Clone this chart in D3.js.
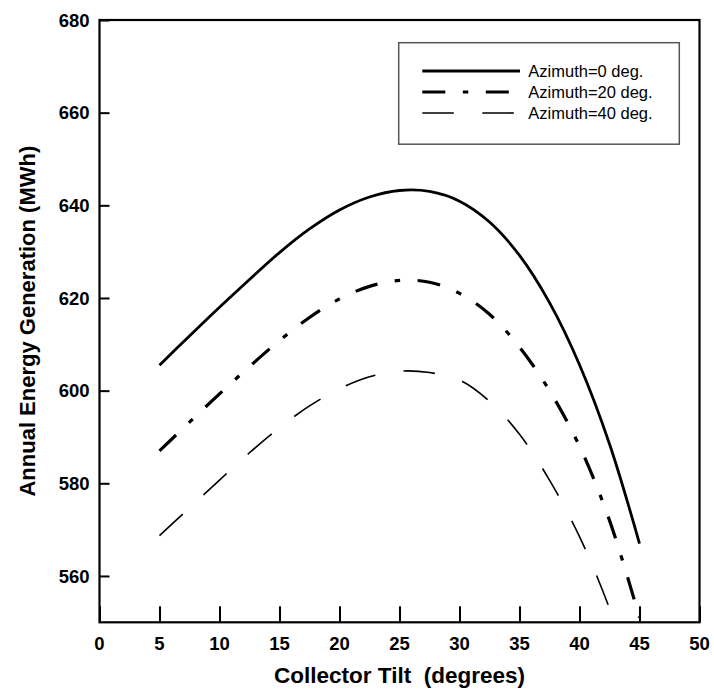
<!DOCTYPE html>
<html>
<head>
<meta charset="utf-8">
<script src="https://cdn.jsdelivr.net/npm/d3@7"></script>
<style>
    body { margin: 0; background: #fff; }
    text { font-family: Arial, 'Liberation Sans', Helvetica, sans-serif; }
</style>
</head>
<body>
<div id="chart"></div>
<script>
// data
var tilt = [5, 7.5, 10, 12.5, 15, 17.5, 20, 22.5, 25, 27.5, 30, 32.5, 35, 37.5, 40, 42.5, 45];
var az0  = [605.5, 611.8, 618.0, 624.0, 629.8, 634.9, 639.0, 641.8, 643.2, 643.0, 640.9, 636.4, 629.2, 619.0, 605.6, 588.5, 567.0];
var az20 = [587.0, 593.2, 599.3, 605.2, 610.8, 615.8, 619.8, 622.5, 623.8, 623.4, 621.0, 616.5, 609.4, 600.0, 588.0, 572.0, 551.0];
var az40 = [568.7, 574.7, 580.7, 586.6, 592.0, 596.7, 600.4, 603.0, 604.2, 603.9, 602.3, 597.7, 590.6, 580.7, 568.5, 553.0, 534.0];
var seriesNames = ['Azimuth=0 deg.', 'Azimuth=20 deg.', 'Azimuth=40 deg.'];
var xTicks = [0, 5, 10, 15, 20, 25, 30, 35, 40, 45, 50];
var yTicks = [560, 580, 600, 620, 640, 660, 680];

var width = 714,
    height = 689;
// note: "top" is taken by window.top, so prefixed names
var plotLeft = 99.5, plotRight = 699.5, plotTop = 20, plotBottom = 622.3;

var styles = [
    { width: 2.8, dash: null },
    { width: 3.2, dash: '23,17.5,5.5,17.5' },
    { width: 1.6, dash: '31.5,28.5' }
];

var svg = d3.select('#chart')
    .append('svg')
        .attr('width', width)
        .attr('height', height);

var x = d3.scaleLinear().domain([0, 50]).range([plotLeft, plotRight]);
var y = d3.scaleLinear().domain([550, 680]).range([plotBottom, plotTop]);

svg.append('defs').append('clipPath')
    .attr('id', 'plot-clip')
    .append('rect')
        .attr('x', plotLeft)
        .attr('y', plotTop)
        .attr('width', plotRight - plotLeft)
        .attr('height', plotBottom - plotTop);

// curves
var series = [az0, az20, az40].map(function (vals) {
    return tilt.map(function (t, i) { return [t, vals[i]]; });
});

var line = d3.line()
    .x(function (d) { return x(d[0]); })
    .y(function (d) { return y(d[1]); })
    .curve(d3.curveCatmullRom.alpha(0.5));

svg.append('g')
    .attr('clip-path', 'url(#plot-clip)')
    .selectAll('path')
    .data(series)
    .enter()
    .append('path')
        .attr('d', line)
        .attr('fill', 'none')
        .attr('stroke', '#000')
        .attr('stroke-width', function (d, i) { return styles[i].width; })
        .attr('stroke-dasharray', function (d, i) { return styles[i].dash; });

// axes, ticks pointing inward
var xAxis = svg.append('g')
    .attr('transform', 'translate(0,' + plotBottom + ')')
    .call(d3.axisBottom(x).tickValues(xTicks).tickSizeInner(-16).tickSizeOuter(0).tickPadding(0));
xAxis.selectAll('text').remove();

var yAxis = svg.append('g')
    .attr('transform', 'translate(' + plotLeft + ',0)')
    .call(d3.axisLeft(y).tickValues(yTicks).tickSizeInner(-10).tickSizeOuter(0).tickPadding(0));
yAxis.selectAll('text').remove();

svg.selectAll('.domain').remove();
svg.selectAll('.tick line')
    .attr('stroke', '#000')
    .attr('stroke-width', 2);

// frame
svg.append('rect')
    .attr('x', plotLeft)
    .attr('y', plotTop)
    .attr('width', plotRight - plotLeft)
    .attr('height', plotBottom - plotTop)
    .attr('fill', 'none')
    .attr('stroke', '#000')
    .attr('stroke-width', 2.2);

// tick labels
svg.append('g')
    .selectAll('text')
    .data(xTicks)
    .enter()
    .append('text')
        .attr('x', function (d) { return x(d); })
        .attr('y', 650)
        .attr('text-anchor', 'middle')
        .style('font-size', '18.5px')
        .style('font-weight', 'bold')
        .text(function (d) { return d; });

svg.append('g')
    .selectAll('text')
    .data(yTicks)
    .enter()
    .append('text')
        .attr('x', 89.5)
        .attr('y', function (d) { return y(d) + 6.6; })
        .attr('text-anchor', 'end')
        .style('font-size', '18.5px')
        .style('font-weight', 'bold')
        .text(function (d) { return d; });

// axis titles
svg.append('text')
    .attr('x', (plotLeft + plotRight) / 2)
    .attr('y', 683)
    .attr('text-anchor', 'middle')
    .style('font-size', '22.5px')
    .style('font-weight', 'bold')
    .style('white-space', 'pre')
    .text('Collector Tilt  (degrees)');

svg.append('text')
    .attr('transform', 'translate(35,' + (plotTop + plotBottom) / 2 + ') rotate(-90)')
    .attr('text-anchor', 'middle')
    .style('font-size', '22px')
    .style('font-weight', 'bold')
    .text('Annual Energy Generation (MWh)');

// legend
var legend = svg.append('g');
legend.append('rect')
    .attr('x', 398.7)
    .attr('y', 42.7)
    .attr('width', 280.6)
    .attr('height', 101.5)
    .attr('fill', '#fff')
    .attr('stroke', '#555')
    .attr('stroke-width', 1.5);

var rows = legend.selectAll('g.row')
    .data(seriesNames)
    .enter()
    .append('g')
        .attr('class', 'row')
        .attr('transform', function (d, i) { return 'translate(0,' + (71 + i * 21) + ')'; });

rows.append('line')
    .attr('x1', 422.3)
    .attr('x2', 520)
    .attr('y1', 0)
    .attr('y2', 0)
    .attr('stroke', '#000')
    .attr('stroke-width', function (d, i) { return styles[i].width; })
    .attr('stroke-dasharray', function (d, i) { return styles[i].dash; });

rows.append('text')
    .attr('x', 528.3)
    .attr('y', 5.7)
    .style('font-size', '16.5px')
    .text(function (d) { return d; });
</script>
</body>
</html>
